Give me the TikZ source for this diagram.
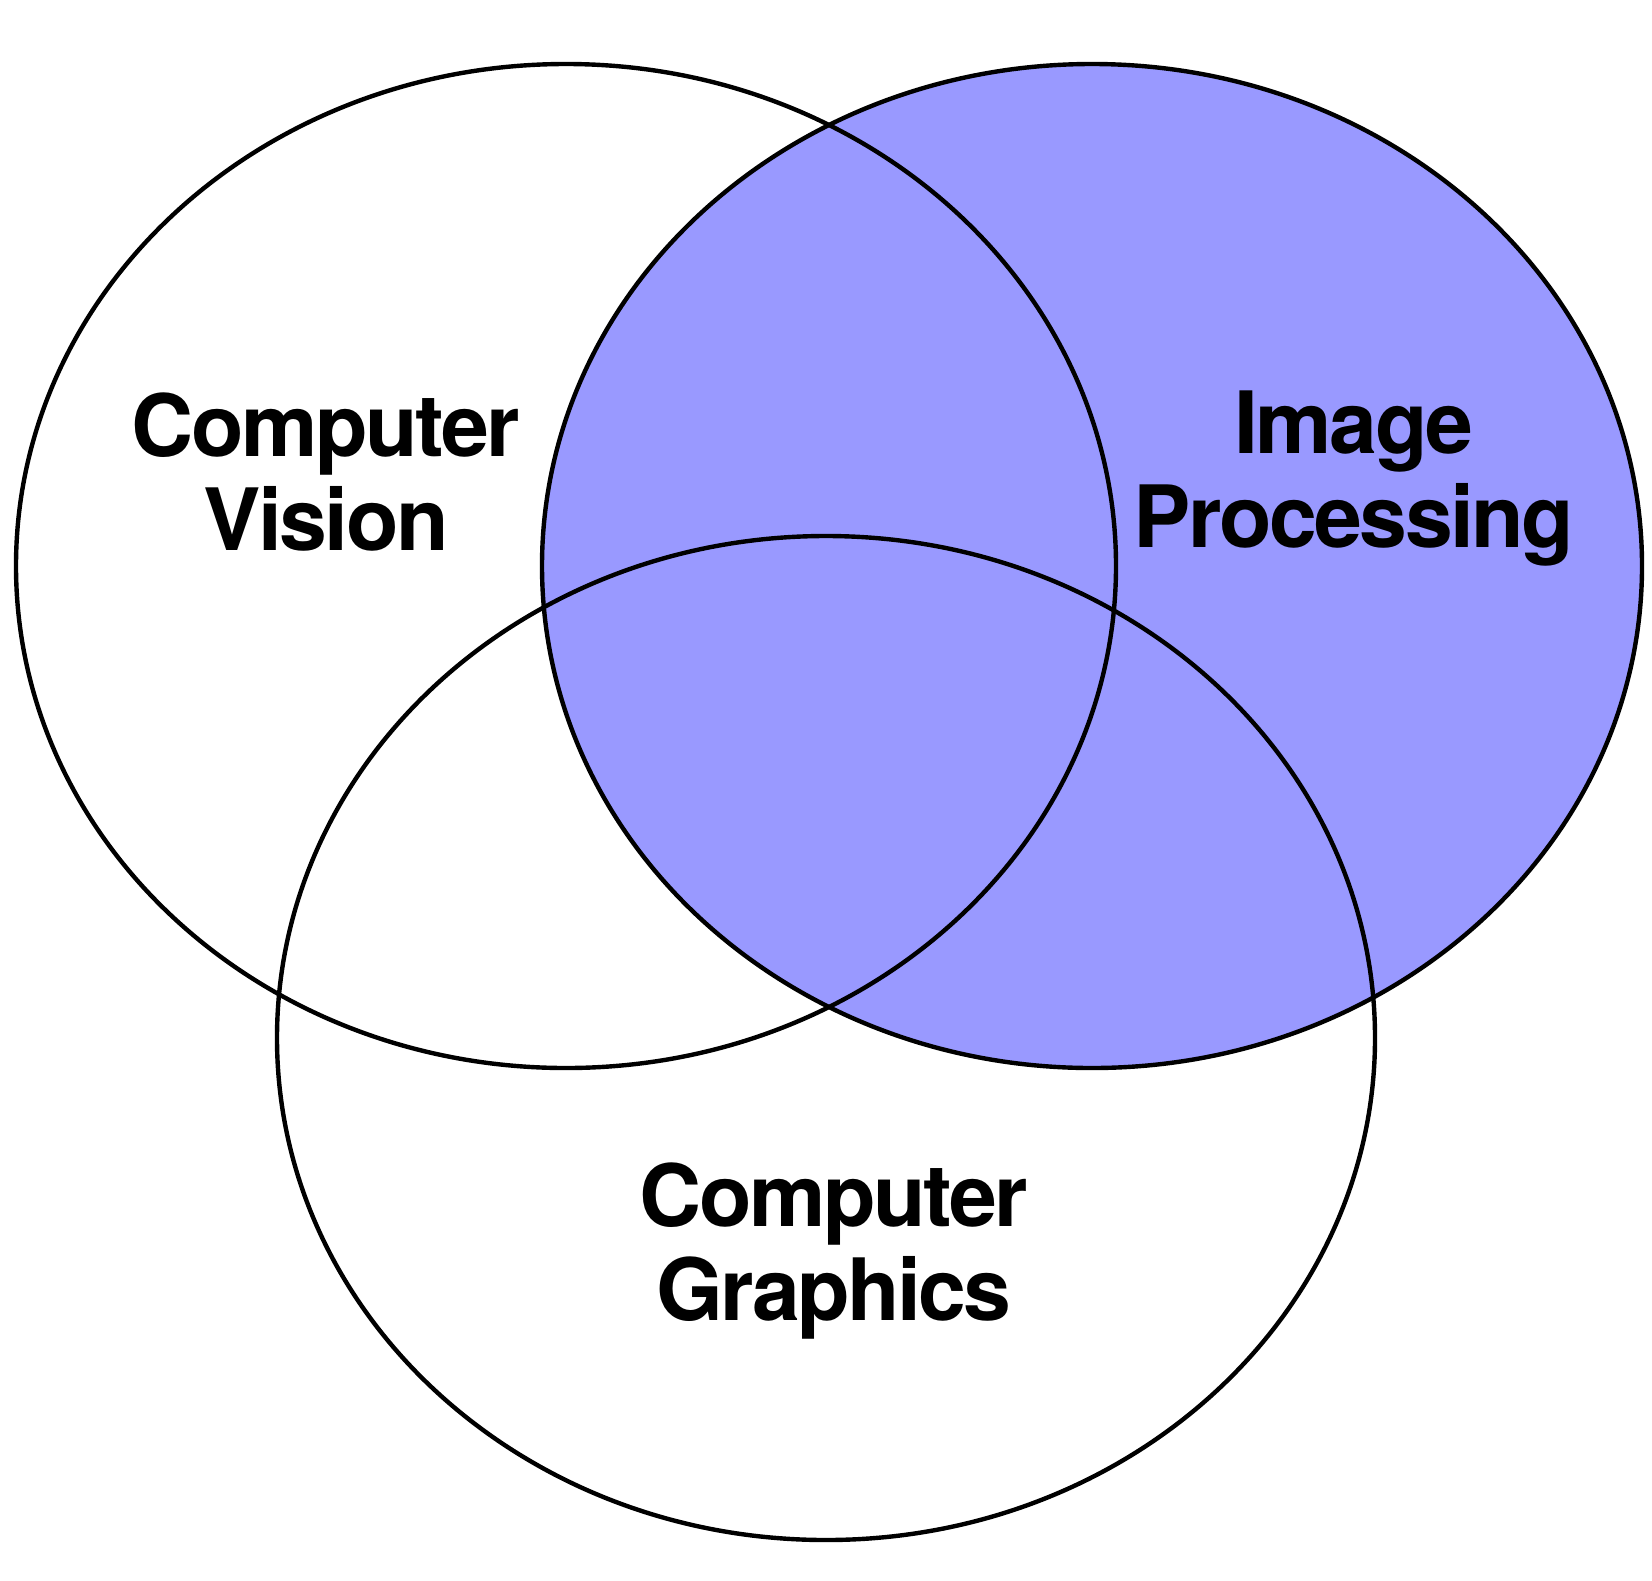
\documentclass[tikz,border=0pt]{standalone}
\usepackage{fontspec}
\newfontfamily\labelfont[LetterSpace=-3]{TeX Gyre Heros}
\definecolor{ipblue}{RGB}{153,153,255}
\begin{document}
\begin{tikzpicture}[x=0.5pt,y=-0.5pt,
  setline/.style={draw=black,line width=2.2pt},
  setlabel/.style={font=\labelfont\bfseries\fontsize{43pt}{46.8pt}\selectfont,align=center,anchor=base,inner sep=0pt}]
\useasboundingbox (0,0) rectangle (1652,1580);
\fill[white] (0,0) rectangle (1652,1580);
% filled Image Processing set
\fill[ipblue] (1092,566) ellipse [x radius=275pt, y radius=251pt];
% outlines
\draw[setline] (566,566) ellipse [x radius=275pt, y radius=251pt];
\draw[setline] (1092,566) ellipse [x radius=275pt, y radius=251pt];
\draw[setline] (826,1038) ellipse [x radius=274.5pt, y radius=251pt];
% labels
\node[setlabel] (cv) at (326,550) {Computer\\Vision};
\node[setlabel] (ip) at (1354,547) {Image\\Processing};
\node[setlabel] (cg) at (834,1320) {Computer\\Graphics};
\end{tikzpicture}
\end{document}
